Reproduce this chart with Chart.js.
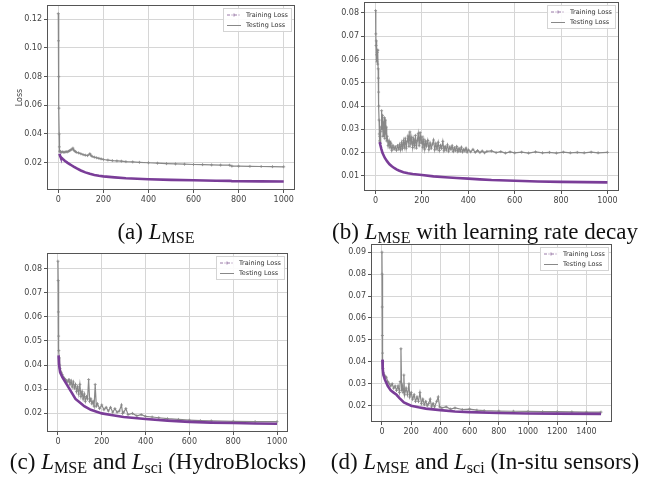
<!DOCTYPE html>
<html>
<head>
<meta charset="utf-8">
<script src="https://cdn.jsdelivr.net/npm/chart.js@4.4.0/dist/chart.umd.min.js"></script>
<style>
html, body { margin: 0; padding: 0; background: #fff; }
body { width: 645px; height: 480px; position: relative; overflow: hidden; }
canvas { position: absolute; }
.cap { position: absolute; font-family: "Liberation Serif", "DejaVu Serif", serif; font-size: 23px; color: #111;
       white-space: nowrap; transform: translateX(-50%); line-height: 25px; }
.cap sub { font-size: 70%; vertical-align: -0.22em; line-height: 0; }
</style>
</head>
<body>
<canvas id="chartA"></canvas>
<canvas id="chartB"></canvas>
<canvas id="chartC"></canvas>
<canvas id="chartD"></canvas>
<div class="cap" style="left:156px; top:219px">(a) <i>L</i><sub>MSE</sub></div>
<div class="cap" style="left:485px; top:219px">(b) <i>L</i><sub>MSE</sub> with learning rate decay</div>
<div class="cap" style="left:158px; top:449px">(c) <i>L</i><sub>MSE</sub> and <i>L</i><sub>sci</sub> (HydroBlocks)</div>
<div class="cap" style="left:485px; top:449px">(d) <i>L</i><sub>MSE</sub> and <i>L</i><sub>sci</sub> (In-situ sensors)</div>
<script>
// [epoch, loss] pairs

// (a) L_MSE
const trainA = [[5,0.0262],[8,0.0248],[10,0.0240],[20,0.0225],[30,0.0212],[40,0.0200],[50,0.0190],[60,0.0180],
  [70,0.0170],[80,0.0161],[100,0.0145],[120,0.0132],[140,0.0122],[160,0.0114],[180,0.0108],[200,0.0104],
  [250,0.0097],[300,0.0091],[350,0.0087],[400,0.0084],[500,0.0080],[600,0.0077],[700,0.0074],[760,0.0073],
  [770,0.0071],[800,0.0070],[900,0.0069],[1000,0.0068]];
const testA = [[0,0.124],[1,0.105],[2,0.080],[3,0.058],[4,0.040],[5,0.031],[6,0.028],[8,0.0275],[10,0.0278],
  [15,0.0272],[20,0.0276],[25,0.0271],[30,0.0274],[35,0.0277],[40,0.0275],[45,0.0279],[50,0.0283],[55,0.0288],
  [60,0.0293],[65,0.0301],[70,0.0285],[75,0.0278],[80,0.0272],[90,0.0268],[100,0.0262],[110,0.0256],[120,0.0252],
  [130,0.0249],[140,0.0262],[145,0.0251],[150,0.0243],[160,0.0238],[170,0.0234],[180,0.0230],[190,0.0226],
  [200,0.0222],[220,0.0218],[240,0.0214],[260,0.0212],[280,0.0210],[300,0.0207],[330,0.0205],[360,0.0202],
  [400,0.0199],[440,0.0196],[480,0.0193],[520,0.0191],[560,0.0189],[600,0.0187],[640,0.0186],[680,0.0184],
  [720,0.0183],[760,0.0182],[770,0.0176],[800,0.0175],[850,0.0174],[900,0.0173],[950,0.0172],[1000,0.0171]];

// (b) L_MSE with learning rate decay
const trainB = [[18,0.0245],[20,0.0235],[25,0.0215],[30,0.0198],[40,0.0177],[50,0.0162],[60,0.0150],[70,0.0141],
  [80,0.0134],[90,0.0128],[100,0.0123],[120,0.0116],[140,0.0111],[160,0.0108],[180,0.0106],[200,0.0104],
  [250,0.0098],[300,0.0094],[350,0.0091],[400,0.0088],[450,0.0085],[500,0.0082],[600,0.0079],[700,0.0076],
  [800,0.0074],[900,0.0073],[1000,0.0072]];
const testB = [[0,0.081],[1,0.071],[2,0.066],[3,0.068],[4,0.062],[5,0.060],[6,0.059],[7,0.063],[8,0.064],[9,0.058],
  [10,0.064],[11,0.056],[12,0.052],[13,0.046],[14,0.040],[15,0.034],[16,0.028],[17,0.025],[18,0.027],[20,0.024],
  [22,0.029],[24,0.031],[26,0.038],[28,0.030],[30,0.036],[32,0.027],[34,0.033],[36,0.029],[38,0.035],[40,0.026],
  [42,0.034],[44,0.028],[46,0.031],[48,0.025],[50,0.027],[54,0.023],[58,0.025],[62,0.022],[66,0.024],[70,0.021],
  [75,0.023],[80,0.0215],[85,0.0225],[90,0.021],[95,0.023],[100,0.0215],[104,0.0235],[108,0.0212],[112,0.0242],
  [116,0.0218],[120,0.0251],[124,0.0224],[128,0.0262],[132,0.0219],[136,0.0248],[140,0.0271],[144,0.0226],
  [148,0.0289],[152,0.0238],[156,0.0265],[160,0.0222],[164,0.0258],[168,0.0231],[172,0.0274],[176,0.0219],
  [180,0.0252],[184,0.0281],[188,0.0229],[192,0.0286],[196,0.0241],[200,0.0268],[204,0.0223],[208,0.0255],
  [212,0.0215],[216,0.0247],[220,0.0228],[225,0.0252],[230,0.0213],[235,0.0241],[240,0.0219],[245,0.0236],
  [250,0.0254],[255,0.0212],[260,0.0238],[265,0.0216],[270,0.0244],[275,0.0209],[280,0.0231],[285,0.0218],
  [290,0.0248],[295,0.0208],[300,0.0226],[305,0.0211],[310,0.0233],[315,0.0206],[320,0.0224],[325,0.0214],
  [330,0.0229],[335,0.0205],[340,0.0221],[345,0.0209],[350,0.0226],[355,0.0204],[360,0.0218],[365,0.0206],
  [370,0.0223],[375,0.0203],[380,0.0214],[385,0.0207],[390,0.0219],[395,0.0202],[400,0.0212],[410,0.0203],
  [420,0.0214],[430,0.0201],[440,0.0209],[450,0.0200],[460,0.0207],[470,0.0199],[480,0.0205],[500,0.0207],
  [520,0.0200],[540,0.0204],[560,0.0198],[580,0.0203],[600,0.0199],[630,0.0202],[660,0.0198],[690,0.0203],
  [720,0.0199],[750,0.0201],[780,0.0198],[810,0.0202],[840,0.0199],[870,0.0201],[900,0.0199],[930,0.0202],
  [960,0.0199],[1000,0.0201]];

// (c) L_MSE and L_sci (HydroBlocks)
const trainC = [[3,0.044],[5,0.040],[10,0.037],[20,0.035],[40,0.032],[60,0.029],[80,0.026],[100,0.0245],
  [120,0.023],[150,0.0215],[200,0.0200],[250,0.0192],[300,0.0185],[400,0.0177],[500,0.0170],[600,0.0165],
  [700,0.0162],[800,0.0160],[900,0.0158],[1000,0.0157]];
const testC = [[0,0.083],[1,0.075],[2,0.062],[3,0.052],[4,0.046],[6,0.043],[8,0.040],[10,0.0385],[15,0.037],
  [20,0.036],[25,0.035],[30,0.0345],[35,0.034],[40,0.0335],[45,0.033],[50,0.034],[55,0.032],[60,0.0335],
  [65,0.031],[70,0.033],[75,0.0305],[80,0.032],[85,0.029],[90,0.031],[95,0.028],[100,0.032],[105,0.027],
  [110,0.029],[115,0.026],[120,0.028],[125,0.025],[130,0.027],[135,0.026],[140,0.034],[145,0.025],[150,0.026],
  [155,0.024],[160,0.025],[165,0.023],[170,0.032],[175,0.023],[180,0.024],[190,0.022],[200,0.0235],[210,0.0215],
  [220,0.0225],[230,0.021],[240,0.0225],[250,0.0205],[260,0.022],[270,0.0205],[280,0.021],[290,0.0235],
  [295,0.020],[300,0.0205],[310,0.022],[320,0.0195],[340,0.020],[360,0.019],[380,0.0195],[400,0.0188],
  [430,0.0185],[460,0.0182],[500,0.0178],[550,0.0175],[600,0.0172],[650,0.0170],[700,0.0169],[800,0.0167],
  [900,0.0166],[1000,0.0166]];

// (d) L_MSE and L_sci (In-situ sensors)
const trainD = [[3,0.041],[5,0.037],[10,0.034],[20,0.032],[40,0.029],[60,0.027],[80,0.026],[100,0.025],
  [120,0.0235],[150,0.0215],[200,0.0200],[250,0.0193],[300,0.0187],[400,0.0180],[500,0.0174],[600,0.0171],
  [800,0.0167],[1000,0.0165],[1200,0.0164],[1500,0.0163]];
const testD = [[0,0.090],[1,0.080],[2,0.065],[3,0.052],[4,0.044],[5,0.040],[7,0.037],[10,0.035],[15,0.034],
  [20,0.0335],[30,0.033],[40,0.031],[50,0.030],[60,0.029],[70,0.030],[80,0.028],[90,0.029],[100,0.027],
  [110,0.029],[120,0.026],[125,0.031],[130,0.046],[135,0.027],[140,0.029],[145,0.026],[150,0.034],[155,0.025],
  [165,0.028],[175,0.025],[185,0.030],[190,0.024],[200,0.026],[210,0.023],[220,0.025],[230,0.022],[240,0.024],
  [250,0.022],[260,0.026],[270,0.021],[280,0.023],[290,0.0205],[300,0.022],[310,0.020],[320,0.021],[330,0.023],
  [340,0.0195],[350,0.021],[360,0.0195],[375,0.022],[385,0.024],[395,0.0195],[410,0.019],[440,0.0195],
  [470,0.0185],[500,0.019],[550,0.0183],[600,0.0185],[650,0.018],[700,0.0178],[800,0.0176],[900,0.0175],
  [1000,0.0174],[1100,0.0173],[1200,0.0173],[1300,0.0172],[1400,0.0171],[1500,0.0171]];

// tick labels
const yTicksA = [0.02, 0.04, 0.06, 0.08, 0.10, 0.12];
const yTicksB = [0.01, 0.02, 0.03, 0.04, 0.05, 0.06, 0.07, 0.08];
const yTicksC = [0.02, 0.03, 0.04, 0.05, 0.06, 0.07, 0.08];
const yTicksD = [0.02, 0.03, 0.04, 0.05, 0.06, 0.07, 0.08, 0.09];
const xTicks1000 = [0, 200, 400, 600, 800, 1000];
const xTicks1500 = [0, 200, 400, 600, 800, 1000, 1200, 1400];

const PURPLE = '#7a3d98';
const GRAY = '#888888';
const tickFont = { family: 'DejaVu Sans', size: 8 };

// frame round the plot + legend box in the upper right corner
const framePlugin = {
    id: 'frame',
    afterDraw(chart) {
        const { ctx, chartArea: a } = chart;
        ctx.save();
        ctx.strokeStyle = '#555';
        ctx.lineWidth = 1;
        ctx.strokeRect(Math.round(a.left) + 0.5, Math.round(a.top) + 0.5,
            Math.round(a.right - a.left) - 1, Math.round(a.bottom - a.top) - 1);

        ctx.font = '6.5px "DejaVu Sans"';
        const names = chart.data.datasets.map(d => d.label);
        const tw = Math.max(...names.map(n => ctx.measureText(n).width));
        const w = Math.round(4 + 14 + 5 + tw + 4), h = 24;
        const x0 = Math.round(a.right - 3 - w), y0 = Math.round(a.top + 3);
        ctx.fillStyle = 'rgba(255,255,255,0.9)';
        ctx.fillRect(x0, y0, w, h);
        ctx.strokeStyle = '#d4d4d4';
        ctx.strokeRect(x0 + 0.5, y0 + 0.5, w - 1, h - 1);
        chart.data.datasets.forEach((ds, i) => {
            const yy = y0 + 7 + i * 10.5;
            ctx.strokeStyle = i === 0 ? '#9a7aa8' : GRAY;
            ctx.lineWidth = 1;
            ctx.setLineDash(i === 0 ? [3, 1.5, 1, 1.5] : []);
            ctx.beginPath();
            ctx.moveTo(x0 + 4, yy);
            ctx.lineTo(x0 + 18, yy);
            ctx.stroke();
            ctx.setLineDash([]);
            if (i === 0) {
                ctx.beginPath();
                ctx.moveTo(x0 + 11, yy - 1.5); ctx.lineTo(x0 + 11, yy + 1.5);
                ctx.stroke();
            }
            ctx.fillStyle = '#333';
            ctx.textBaseline = 'middle';
            ctx.fillText(ds.label, x0 + 23, yy);
        });
        ctx.restore();
    }
};

function makeChart(id, box, train, test, xr, yr, xt, yt, yTitle) {
    const pl = 2, pt = 8, pr = 12, pb = 2, xh = 16;
    const canvas = document.getElementById(id);
    canvas.width = pl + box.yw + (box.right - box.left) + pr;
    canvas.height = pt + (box.bottom - box.top) + xh + pb;
    canvas.style.left = (box.left - box.yw - pl) + 'px';
    canvas.style.top = (box.top - pt) + 'px';

    return new Chart(canvas.getContext('2d'), {
        type: 'line',
        data: {
            datasets: [{
                label: 'Training Loss',
                data: train.map(p => ({ x: p[0], y: p[1] })),
                borderColor: PURPLE,
                borderWidth: 2.6,
                pointRadius: 0,
                order: 0
            }, {
                label: 'Testing Loss',
                data: test.map(p => ({ x: p[0], y: p[1] })),
                borderColor: GRAY,
                borderWidth: 1.2,
                pointStyle: 'cross',
                pointRadius: 1.5,
                pointBorderWidth: 0.8,
                pointBorderColor: GRAY,
                order: 1
            }]
        },
        options: {
            responsive: false,
            animation: false,
            layout: { padding: { left: pl, top: pt, right: pr, bottom: pb } },
            plugins: { legend: { display: false }, tooltip: { enabled: false } },
            scales: {
                x: {
                    type: 'linear', min: xr[0], max: xr[1],
                    afterBuildTicks: s => { s.ticks = xt.map(v => ({ value: v })); },
                    afterFit: s => { s.height = xh; },
                    ticks: { font: tickFont, color: '#444', padding: 2, maxRotation: 0,
                        callback: v => String(v) },
                    grid: { color: '#d6d6d6', tickColor: '#555', tickLength: 3 },
                    border: { display: false }
                },
                y: {
                    min: yr[0], max: yr[1],
                    afterBuildTicks: s => { s.ticks = yt.map(v => ({ value: v })); },
                    afterFit: s => { s.width = box.yw; },
                    ticks: { font: tickFont, color: '#444', padding: 2,
                        callback: v => v.toFixed(2) },
                    grid: { color: '#d6d6d6', tickColor: '#555', tickLength: 3 },
                    border: { display: false },
                    title: { display: !!yTitle, text: yTitle || '', font: tickFont, color: '#444',
                        padding: { top: 15, bottom: 0 } }
                }
            }
        },
        plugins: [framePlugin]
    });
}

const chartA = makeChart('chartA', { left: 47, top: 5, right: 295, bottom: 190, yw: 47 },
    trainA, testA, [-50, 1050], [0.0009, 0.130], xTicks1000, yTicksA, 'Loss');
const chartB = makeChart('chartB', { left: 364, top: 2, right: 619, bottom: 191, yw: 44 },
    trainB, testB, [-50, 1050], [0.0035, 0.0847], xTicks1000, yTicksB);
const chartC = makeChart('chartC', { left: 47, top: 253, right: 288, bottom: 432, yw: 44 },
    trainC, testC, [-50, 1050], [0.0123, 0.0864], xTicks1000, yTicksC);
const chartD = makeChart('chartD', { left: 371, top: 244, right: 612, bottom: 422, yw: 44 },
    trainD, testD, [-75, 1575], [0.0126, 0.0937], xTicks1500, yTicksD);
</script>
</body>
</html>
